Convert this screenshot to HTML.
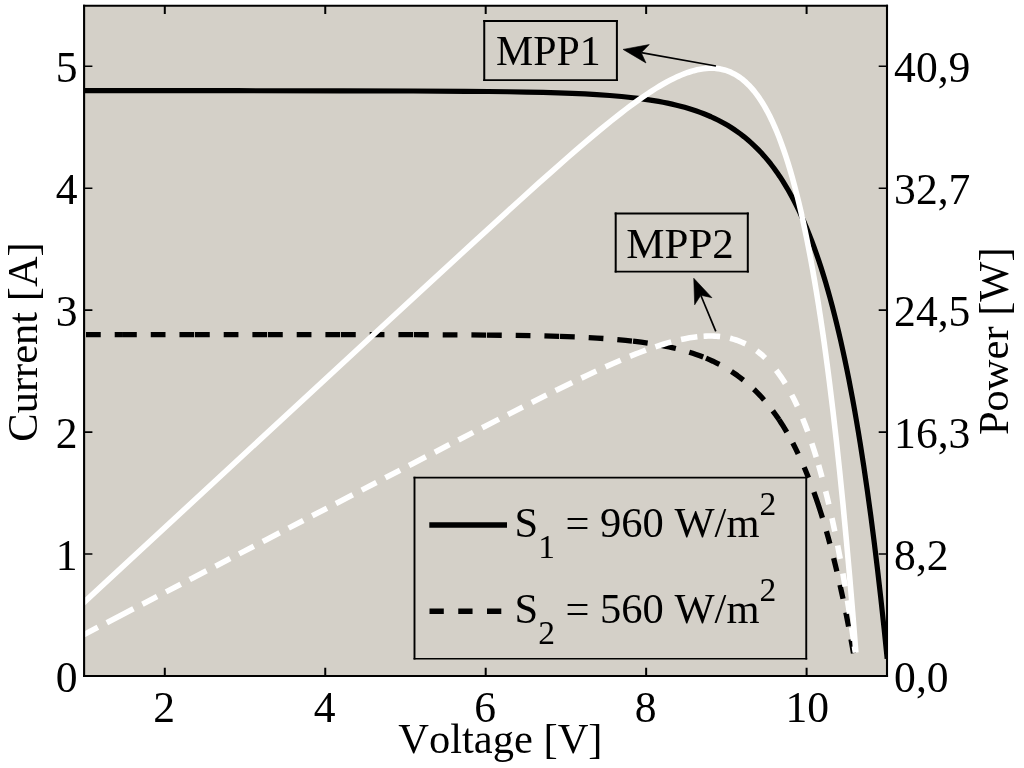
<!DOCTYPE html>
<html><head><meta charset="utf-8"><title>I-V and P-V curves</title>
<style>
html,body{margin:0;padding:0;background:#fff;}
body{width:1024px;height:768px;overflow:hidden;}
svg{display:block;}
text{font-family:"Liberation Serif","Times New Roman",serif;fill:#000;font-kerning:none;}
.t{font-size:42.5px;}
.d{font-size:43.6px;}
</style></head><body>
<svg width="1024" height="768" viewBox="0 0 1024 768">
<rect x="0" y="0" width="1024" height="768" fill="#fff"/>
<rect x="84.10" y="5.70" width="802.90" height="670.30" fill="#d4d0c8"/>

<clipPath id="cp"><rect x="84.10" y="5.70" width="803.70" height="670.30"/></clipPath>
<g clip-path="url(#cp)" fill="none" stroke-linejoin="round">
<path d="M78.59,90.65 L236.81,90.72 L341.75,90.83 L413.34,91.01 L465.40,91.30 L488.18,91.50 L508.52,91.76 L526.82,92.07 L543.09,92.43 L558.14,92.86 L571.97,93.37 L584.98,93.96 L596.78,94.62 L609.79,95.53 L621.59,96.53 L632.98,97.72 L638.27,98.36 L643.55,99.06 L648.84,99.82 L653.72,100.59 L658.60,101.42 L663.08,102.26 L667.55,103.16 L672.03,104.13 L676.50,105.18 L680.57,106.21 L684.64,107.31 L688.70,108.50 L692.62,109.73 L696.46,111.01 L700.21,112.35 L703.89,113.76 L707.48,115.22 L711.00,116.74 L714.44,118.33 L717.82,119.98 L721.14,121.70 L724.38,123.48 L727.57,125.33 L730.71,127.26 L733.77,129.24 L736.80,131.31 L740.51,134.01 L744.15,136.83 L747.71,139.77 L751.21,142.84 L754.63,146.04 L757.98,149.35 L761.27,152.81 L764.49,156.40 L767.66,160.13 L770.76,163.98 L773.82,168.00 L776.82,172.15 L779.76,176.45 L782.66,180.91 L785.51,185.53 L788.31,190.28 L791.06,195.20 L793.78,200.29 L796.45,205.55 L799.08,210.97 L801.67,216.57 L804.22,222.32 L806.74,228.27 L809.21,234.37 L811.66,240.68 L814.06,247.15 L816.43,253.80 L818.77,260.64 L821.07,267.66 L823.35,274.90 L825.60,282.33 L827.82,289.98 L830.02,297.85 L832.20,305.95 L834.36,314.28 L836.48,322.80 L838.58,331.55 L840.65,340.48 L842.70,349.70 L844.72,359.09 L846.72,368.72 L848.70,378.58 L850.65,388.68 L852.59,399.01 L854.50,409.57 L856.38,420.36 L858.25,431.39 L860.09,442.65 L863.73,466.00 L867.29,490.35 L870.77,515.70 L874.19,542.12 L877.53,569.63 L880.81,598.21 L884.04,627.96 L887.19,658.79" stroke="#000" stroke-width="5.2"/>
<path d="M86.00,334.58 L100.75,334.58 M114.70,334.58 L122.00,334.58 M122.05,334.58 L136.80,334.58 M150.75,334.58 L165.50,334.58 M179.45,334.58 L194.20,334.58 M195.00,334.58 L209.75,334.58 M223.70,334.58 L238.45,334.58 M252.40,334.58 L267.16,334.59 M268.01,334.59 L282.76,334.59 M296.71,334.59 L311.46,334.60 M325.41,334.61 L340.16,334.62 M341.01,334.62 L355.76,334.63 M369.71,334.64 L384.46,334.66 M398.41,334.68 L413.16,334.72 M414.01,334.72 L428.76,334.76 M442.71,334.81 L457.46,334.88 M471.41,334.96 L486.16,335.08 M487.01,335.09 L501.76,335.24 M515.71,335.42 L530.46,335.67 M544.41,335.97 L559.15,336.38 M560.00,336.41 L574.74,336.94 M588.68,337.60 L597.07,338.08 L603.40,338.49 M617.31,339.57 L625.62,340.35 L631.99,341.03 M633.03,341.15 L641.22,342.16 L647.66,343.06 M661.41,345.38 L664.75,346.03 L669.06,346.92 L672.13,347.61 L675.83,348.48 M689.28,352.18 L692.76,353.28 L696.12,354.42 L699.89,355.77 L703.20,357.04 M706.03,358.18 L709.43,359.64 L712.94,361.23 L716.23,362.81 L719.39,364.42 M731.44,371.44 L734.48,373.46 L737.43,375.53 L740.48,377.79 L743.40,380.06 M753.89,389.26 L756.52,391.85 L758.96,394.36 L761.48,397.07 L764.04,399.95 M772.78,410.82 L775.98,415.23 L778.98,419.60 M779.01,419.65 L781.01,422.70 L782.91,425.70 L784.84,428.85 L786.80,432.17 M792.81,443.07 L795.51,448.37 L798.15,453.81 M804.21,467.26 L806.37,472.43 L808.49,477.72 M813.90,492.08 L816.09,498.31 L818.24,504.66 L820.37,511.22 L822.46,517.90 M826.45,531.32 L828.20,537.53 L829.88,543.70 M833.63,558.13 L835.23,564.58 L836.86,571.34 M840.00,584.98 L841.51,591.82 L843.02,598.81 M845.85,612.52 L848.59,626.45 M850.98,639.23 L853.50,653.26" stroke="#000" stroke-width="5.3"/>
<path d="M79.37,606.62 L371.77,336.26 L429.32,283.13 L471.97,243.88 L508.23,210.73 L523.69,196.70 L538.67,183.20 L550.33,172.79 L567.96,157.24 L574.97,151.14 L586.69,141.07 L600.50,129.49 L611.44,120.58 L620.50,113.43 L625.78,109.37 L630.58,105.76 L639.05,99.62 L642.82,96.98 L648.03,93.45 L651.23,91.34 L655.70,88.50 L659.83,85.99 L663.65,83.77 L667.22,81.78 L670.57,80.02 L673.72,78.44 L677.64,76.59 L681.30,75.00 L684.72,73.64 L687.94,72.47 L690.97,71.49 L693.84,70.66 L697.23,69.82 L700.41,69.18 L703.42,68.71 L706.26,68.40 L708.96,68.23 L711.53,68.19 L714.47,68.29 L717.70,68.60 L719.46,68.86 L721.17,69.18 L724.42,69.97 L725.98,70.43 L727.87,71.07 L729.33,71.64 L731.11,72.39 L734.17,73.90 L737.06,75.57 L738.60,76.57 L740.11,77.61 L742.99,79.81 L745.99,82.41 L748.84,85.17 L751.55,88.08 L754.13,91.13 L756.81,94.60 L759.37,98.20 L762.01,102.24 L764.53,106.42 L767.12,111.05 L769.60,115.81 L771.97,120.69 L774.41,126.04 L776.74,131.51 L778.98,137.08 L781.27,143.14 L783.61,149.69 L785.86,156.35 L788.02,163.12 L790.22,170.39 L792.34,177.76 L794.49,185.64 L796.57,193.62 L798.68,202.11 L800.71,210.71 L802.77,219.82 L804.76,229.04 L806.78,238.78 L808.72,248.61 L810.69,258.99 L812.68,269.90 L814.60,280.91 L816.54,292.47 L818.41,304.11 L820.31,316.31 L822.14,328.59 L823.99,341.43 L825.78,354.35 L827.58,367.84 L829.33,381.41 L832.81,409.75 L836.27,439.88 L839.65,471.32 L843.01,504.57 L846.29,539.15 L849.51,575.05 L852.70,612.80 L855.86,652.41" stroke="#fff" stroke-width="5.6"/>
<path d="M83.19,634.99 L97.87,627.35 M106.83,622.69 L118.72,616.51 M118.76,616.49 L133.45,608.85 M142.41,604.19 L157.09,596.55 M166.05,591.89 L180.73,584.25 M189.69,579.59 L191.82,578.48 M191.87,578.46 L206.55,570.82 M215.51,566.16 L230.19,558.52 M239.15,553.86 L253.84,546.23 M262.80,541.57 L264.93,540.46 M264.97,540.44 L279.66,532.80 M288.62,528.14 L303.30,520.50 M312.26,515.84 L326.95,508.21 M335.91,503.55 L338.04,502.44 M338.08,502.42 L352.77,494.79 M361.73,490.13 L376.42,482.50 M385.38,477.84 L400.07,470.22 M409.03,465.57 L411.12,464.49 M411.16,464.46 L425.86,456.85 M434.83,452.20 L449.53,444.60 M458.50,439.96 L473.21,432.38 M482.19,427.76 L484.24,426.71 M484.28,426.68 L499.01,419.13 M508.01,414.54 L522.76,407.05 M531.78,402.49 L546.58,395.09 M555.63,390.60 L557.33,389.76 M557.38,389.74 L572.25,382.48 M581.36,378.11 L586.96,375.45 L596.34,371.07 M605.53,366.88 L612.01,363.99 L620.68,360.23 M630.00,356.34 L630.42,356.17 M630.47,356.16 L635.29,354.22 L639.02,352.76 L645.90,350.17 M655.42,346.81 L659.69,345.40 L663.32,344.26 L667.78,342.93 L671.24,341.96 M681.05,339.54 L685.16,338.68 L689.68,337.85 L693.88,337.21 L697.36,336.78 M703.58,336.24 L705.98,336.12 L708.13,336.06 L710.18,336.04 L712.18,336.06 L714.13,336.13 L716.38,336.25 L718.17,336.38 L720.11,336.58 M730.06,338.30 L732.09,338.82 L734.11,339.39 L736.07,340.01 L737.95,340.67 L739.82,341.38 L741.86,342.22 L743.82,343.09 L745.58,343.94 M756.72,350.80 L758.91,352.47 L761.04,354.21 L763.07,355.98 L765.20,357.95 M776.22,370.28 L778.47,373.28 L780.84,376.62 L783.11,380.03 L785.30,383.50 M791.79,394.94 L793.26,397.78 L794.64,400.55 L797.37,406.29 M802.67,418.49 L805.20,424.85 L807.72,431.54 M811.85,443.34 L814.05,450.09 L816.25,457.16 M818.62,465.11 L820.34,471.17 L822.01,477.25 M825.65,491.23 L827.23,497.64 L828.83,504.35 M831.95,518.10 L834.80,531.40 M837.66,545.52 L840.22,558.87 M842.88,573.48 L845.14,586.54 M847.45,600.45 L849.54,613.58 M851.66,627.42 L853.59,640.58 M854.42,646.37 L855.28,652.46" stroke="#fff" stroke-width="5.6"/>
</g>
<g stroke="#000" fill="none">
<path d="M84.10,4.70 V677.00 M887.00,4.70 V677.00" stroke-width="2.1"/>
<path d="M83.05,5.70 H888.05 M83.05,676.00 H888.05" stroke-width="2"/>
</g><g stroke="#000" fill="none">
<path d="M164.80,676.00 v-8.30 M164.80,5.70 v8.30 M325.25,676.00 v-8.30 M325.25,5.70 v8.30 M485.70,676.00 v-8.30 M485.70,5.70 v8.30 M646.15,676.00 v-8.30 M646.15,5.70 v8.30 M806.60,676.00 v-8.30 M806.60,5.70 v8.30" stroke-width="2"/>
<path d="M84.10,554.05 h8.30 M887.00,554.05 h-8.30 M84.10,432.10 h8.30 M887.00,432.10 h-8.30 M84.10,310.15 h8.30 M887.00,310.15 h-8.30 M84.10,188.20 h8.30 M887.00,188.20 h-8.30 M84.10,66.25 h8.30 M887.00,66.25 h-8.30" stroke-width="1.6"/>
</g>
<g class="t">
<text class="d" x="77.5" y="691.80" text-anchor="end">0</text>
<text class="d" x="77.5" y="569.85" text-anchor="end">1</text>
<text class="d" x="77.5" y="447.90" text-anchor="end">2</text>
<text class="d" x="77.5" y="325.95" text-anchor="end">3</text>
<text class="d" x="77.5" y="204.00" text-anchor="end">4</text>
<text class="d" x="77.5" y="82.05" text-anchor="end">5</text>
<text class="d" x="894.1" y="691.70">0,0</text>
<text class="d" x="894.1" y="569.75">8,2</text>
<text class="d" x="894.1" y="447.80">16,3</text>
<text class="d" x="894.1" y="325.85">24,5</text>
<text class="d" x="894.1" y="203.90">32,7</text>
<text class="d" x="894.1" y="81.95">40,9</text>
<text class="d" x="164.20" y="722" text-anchor="middle">2</text>
<text class="d" x="324.65" y="722" text-anchor="middle">4</text>
<text class="d" x="485.10" y="722" text-anchor="middle">6</text>
<text class="d" x="645.55" y="722" text-anchor="middle">8</text>
<text class="d" x="807.30" y="722" text-anchor="middle">10</text>
<text x="500.4" y="753.3" text-anchor="middle">Voltage [V]</text>
<text transform="translate(36.7,342) rotate(-90)" text-anchor="middle">Current [A]</text>
<text transform="translate(1008.1,341.2) rotate(-90)" text-anchor="middle">Power [W]</text>
</g>
<g stroke="#000" fill="none"><path d="M484.25,20.10 V80.95 M616.90,20.10 V80.95" stroke-width="2.00"/><path d="M483.25,21.00 H617.90 M483.25,80.05 H617.90" stroke-width="1.80"/></g>
<g stroke="#000" fill="none"><path d="M615.70,212.60 V272.60 M747.80,212.60 V272.60" stroke-width="2.00"/><path d="M614.70,213.50 H748.80 M614.70,271.70 H748.80" stroke-width="1.80"/></g>
<text style="font-size:41.8px" x="496" y="64.5">MPP1</text><text style="font-size:43px" x="626.3" y="257.5">MPP2</text>
<path d="M716.00,66.00 L641.24,52.64" stroke="#000" stroke-width="1.7" fill="none"/><path d="M623.10,49.40 L649.26,44.58 L641.24,52.64 L645.97,62.98 Z" fill="#000" stroke="#000" stroke-width="0.6" stroke-linejoin="miter"/>
<path d="M715.80,331.40 L700.81,295.27" stroke="#000" stroke-width="1.7" fill="none"/><path d="M693.75,278.25 L711.93,297.67 L700.81,295.27 L694.66,304.83 Z" fill="#000" stroke="#000" stroke-width="0.6" stroke-linejoin="miter"/>
<rect x="414.50" y="477.60" width="391.75" height="181.15" fill="#d4d0c8"/><g stroke="#000" fill="none"><path d="M414.50,476.75 V659.60 M806.25,476.75 V659.60" stroke-width="1.90"/><path d="M413.55,477.60 H807.20 M413.55,658.75 H807.20" stroke-width="1.70"/></g>
<path d="M429.3,525 H507" stroke="#000" stroke-width="5.4" fill="none"/>
<path d="M429.5,611.3 H501.3" stroke="#000" stroke-width="5.4" fill="none" stroke-dasharray="14.3 14.45"/>
<text class="t" x="514.5" y="537.00">S<tspan font-size="33.5px" dy="20.5">1</tspan><tspan dy="-20.5"> = 960 W/m</tspan><tspan font-size="33.5px" dy="-22">2</tspan></text>
<text class="t" x="514.5" y="623.40">S<tspan font-size="33.5px" dy="20.5">2</tspan><tspan dy="-20.5"> = 560 W/m</tspan><tspan font-size="33.5px" dy="-22">2</tspan></text>
</svg></body></html>
